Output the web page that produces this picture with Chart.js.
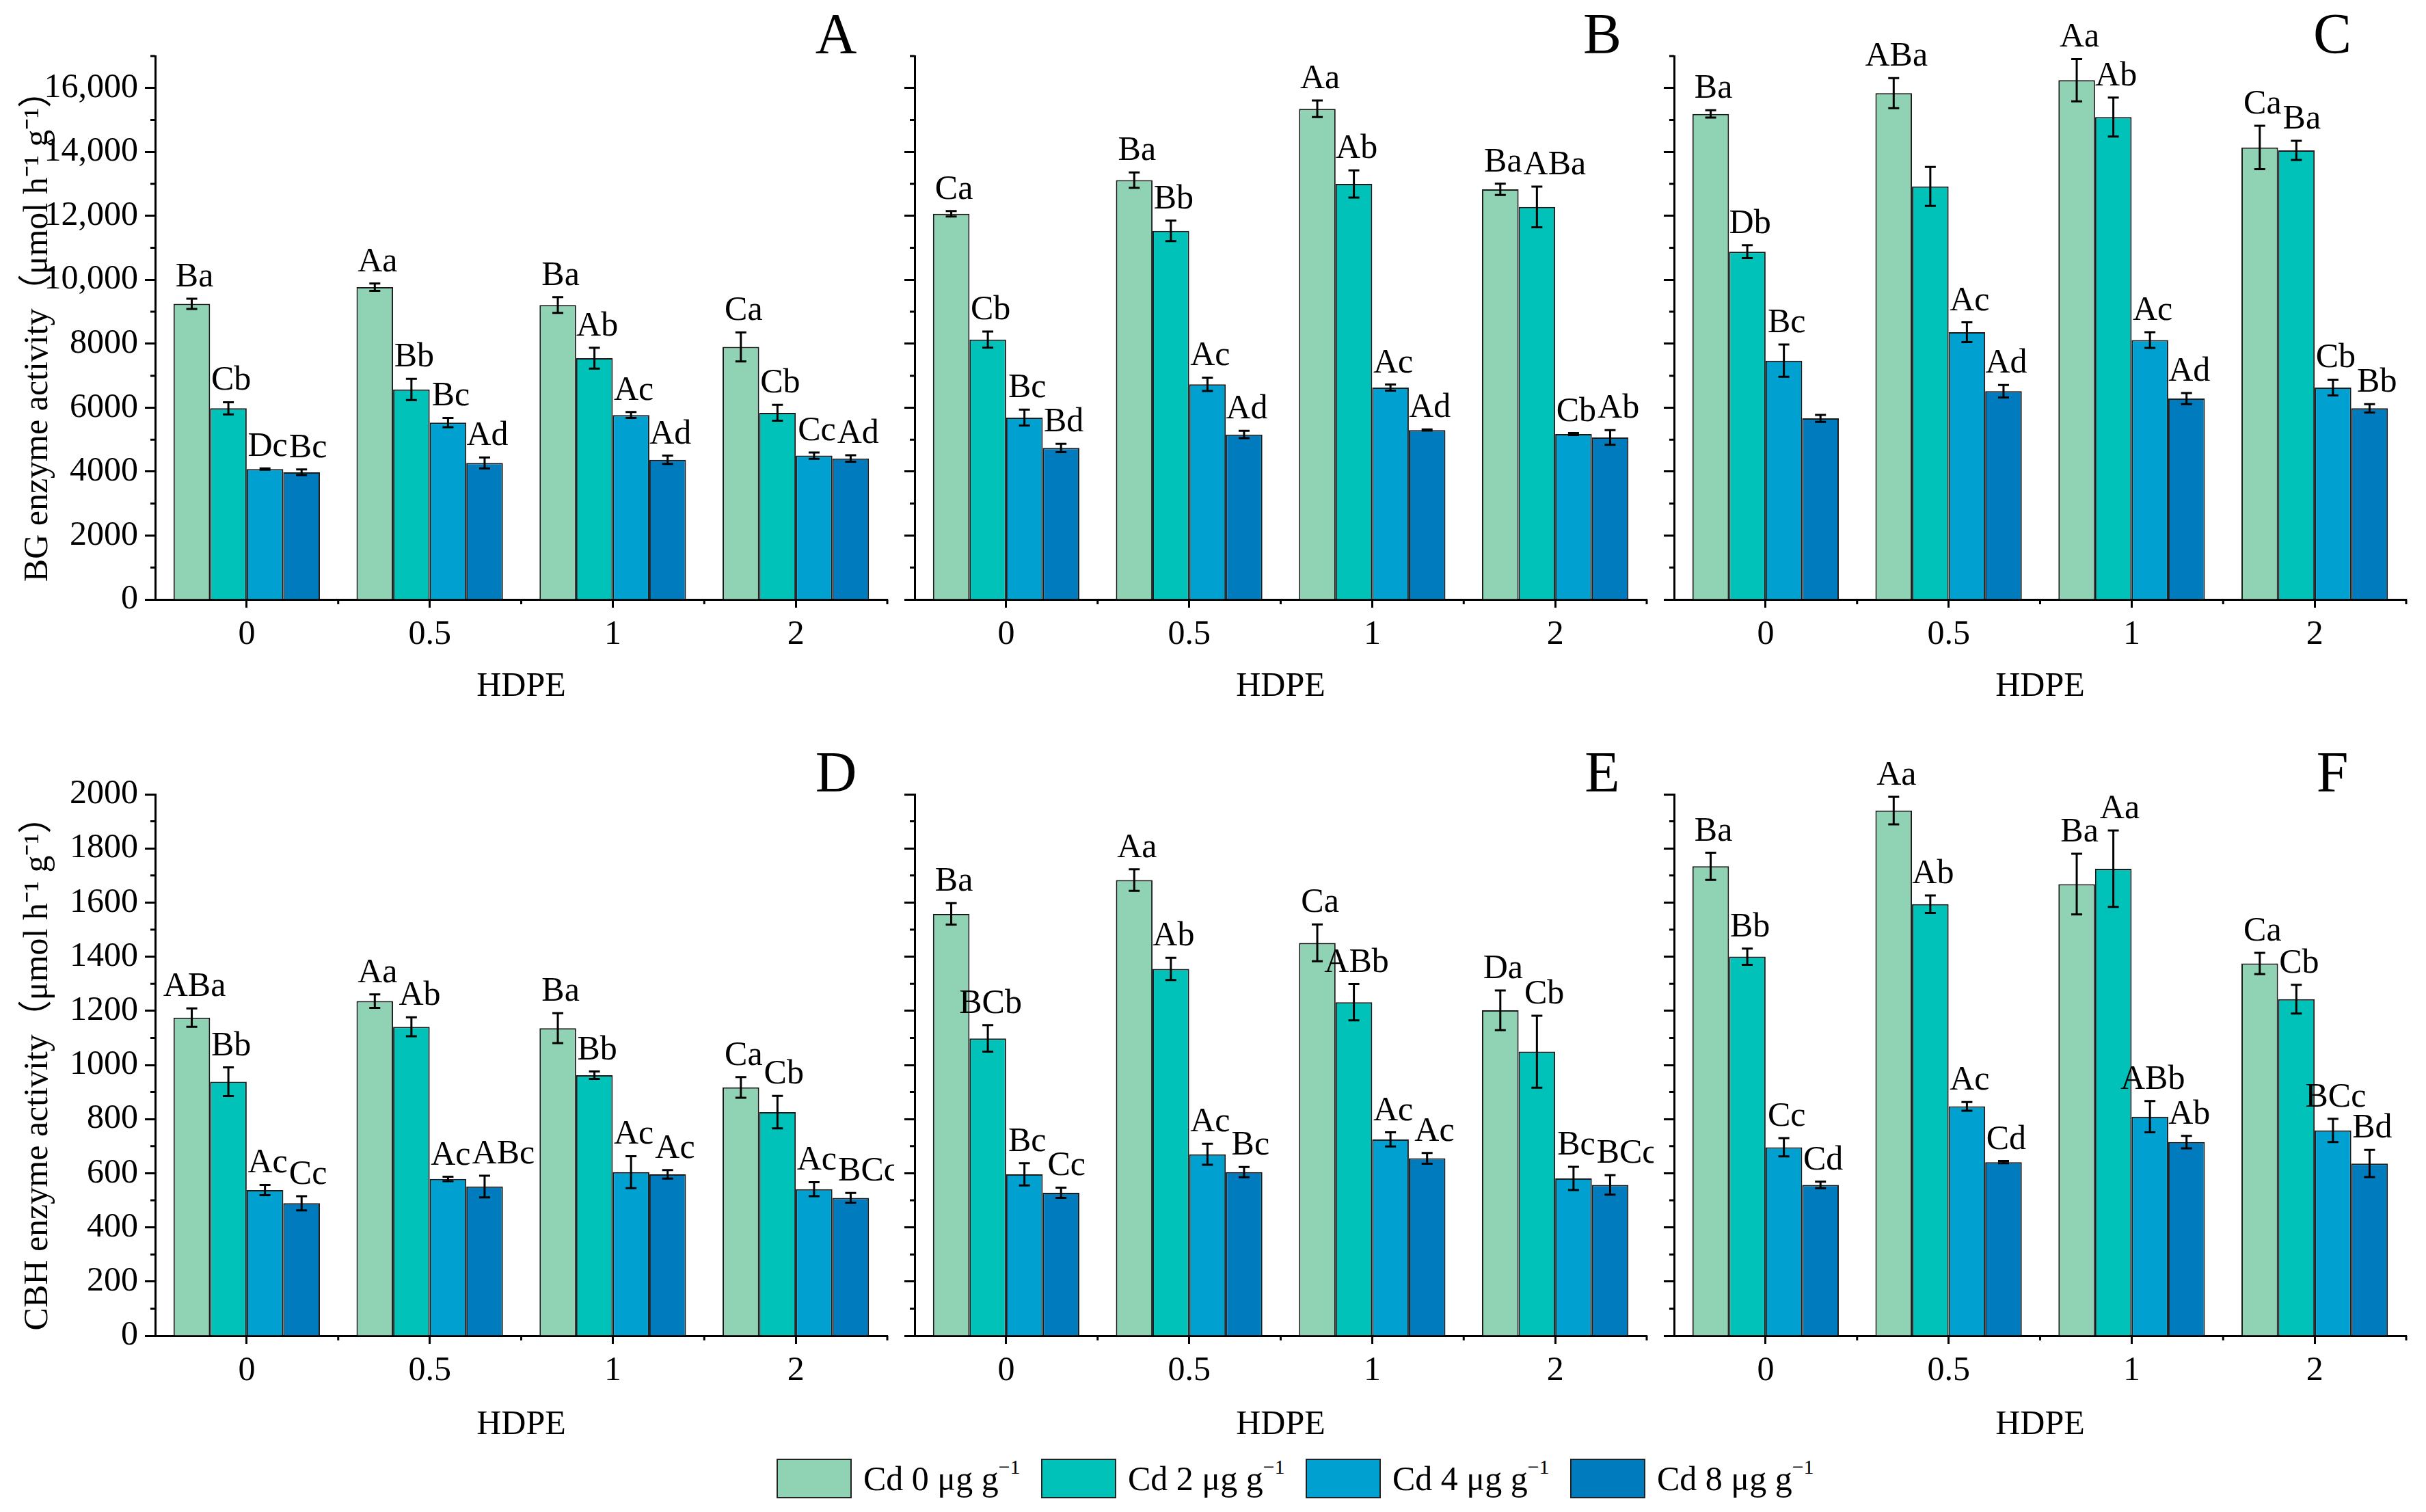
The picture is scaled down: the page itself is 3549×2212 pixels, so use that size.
<!DOCTYPE html>
<html>
<head>
<meta charset="utf-8">
<script src="https://cdn.jsdelivr.net/npm/chart.js@4.4.1/dist/chart.umd.min.js"></script>
<style>
    body { margin: 0; background: #fff; width: 3549px; height: 2212px; position: relative; overflow: hidden;
           font-family: "Liberation Serif", "Times New Roman", "Noto Sans CJK SC", serif; }
    .panel { position: absolute; width: 1308px; height: 1037px; }
    #legend { position: absolute; left: 1136px; top: 2134px; display: flex; }
    .item { display: flex; align-items: center; width: 387px; height: 58px; font-size: 50px; color: #000; }
    .box { width: 106px; height: 54px; border: 2px solid #222; margin-right: 17px; flex: none; }
    .item sup { font-size: 30px; vertical-align: 24px; line-height: 0; }
</style>
</head>
<body>
<div id="legend"></div>
<script>
// HDPE doses on the x axis
const hdpe = ['0', '0.5', '1', '2'];
// Cd levels (series)
const cdLevels = ['0', '2', '4', '8'];
const cdColors = ['#8fd3b4', '#00c2b8', '#00a0d0', '#007bbe'];

// y tick labels
const bgTicks = [0, 2000, 4000, 6000, 8000, 10000, 12000, 14000, 16000];
const cbhTicks = [0, 200, 400, 600, 800, 1000, 1200, 1400, 1600, 1800, 2000];

// rows = Cd 0, 2, 4, 8 ; columns = HDPE 0, 0.5, 1, 2
const bgA_mean = [[9250, 9770, 9210, 7900], [5980, 6570, 7550, 5840], [4080, 5535, 5770, 4500], [3980, 4270, 4370, 4410]];
const bgA_err  = [[160, 115, 245, 455], [190, 330, 325, 250], [20, 145, 95, 100], [90, 170, 130, 100]];
const bgA_sig  = [['Ba', 'Aa', 'Ba', 'Ca'], ['Cb', 'Bb', 'Ab', 'Cb'], ['Dc', 'Bc', 'Ac', 'Cc'], ['Bc', 'Ad', 'Ad', 'Ad']];

const bgB_mean = [[12065, 13120, 15350, 12830], [8130, 11530, 13000, 12280], [5690, 6730, 6630, 5175], [4740, 5160, 5300, 5070]];
const bgB_err  = [[85, 240, 260, 175], [250, 320, 425, 635], [250, 210, 95, 30], [130, 115, 20, 230]];
const bgB_sig  = [['Ca', 'Ba', 'Aa', 'Ba'], ['Cb', 'Bb', 'Ab', 'ABa'], ['Bc', 'Ac', 'Ac', 'Cb'], ['Bd', 'Ad', 'Ad', 'Ab']];

const bgC_mean = [[15190, 15840, 16245, 14140], [10880, 12920, 15090, 14050], [7470, 8360, 8115, 6630], [5665, 6515, 6285, 5980]];
const bgC_err  = [[115, 470, 660, 680], [200, 610, 610, 300], [505, 310, 245, 245], [110, 195, 175, 130]];
const bgC_sig  = [['Ba', 'ABa', 'Aa', 'Ca'], ['Db', '', 'Ab', 'Ba'], ['Bc', 'Ac', 'Ac', 'Cb'], ['', 'Ad', 'Ad', 'Bb']];

const cbhD_mean = [[1175, 1236, 1136, 917], [938, 1141, 962, 826], [538, 579, 604, 541], [489, 551, 596, 509]];
const cbhD_err  = [[34, 25, 55, 38], [53, 35, 14, 60], [19, 8, 59, 26], [26, 40, 16, 18]];
const cbhD_sig  = [['ABa', 'Aa', 'Ba', 'Ca'], ['Bb', 'Ab', 'Bb', 'Cb'], ['Ac', 'Ac', 'Ac', 'Ac'], ['Cc', 'ABc', 'Ac', 'BCc']];

const cbhE_mean = [[1558, 1683, 1451, 1202], [1098, 1355, 1232, 1049], [596, 670, 725, 581], [528, 604, 655, 557]];
const cbhE_err  = [[40, 40, 68, 73], [49, 41, 67, 133], [41, 39, 26, 43], [19, 19, 20, 36]];
const cbhE_sig  = [['Ba', 'Aa', 'Ca', 'Da'], ['BCb', 'Ab', 'ABb', 'Cb'], ['Bc', 'Ac', 'Ac', 'Bc'], ['Cc', 'Bc', 'Ac', 'BCc']];

const cbhF_mean = [[1734, 1940, 1668, 1375], [1400, 1594, 1725, 1243], [696, 847, 809, 758], [557, 641, 715, 636]];
const cbhF_err  = [[50, 51, 112, 39], [30, 32, 141, 53], [34, 16, 58, 43], [12, 4, 23, 50]];
const cbhF_sig  = [['Ba', 'Aa', 'Ba', 'Ca'], ['Bb', 'Ab', 'Aa', 'Cb'], ['Cc', 'Ac', 'ABb', 'BCc'], ['Cd', 'Cd', 'Ab', 'Bd']];

const bgTitle = 'BG enzyme activity（μmol h⁻¹ g⁻¹）';
const cbhTitle = 'CBH enzyme activity（μmol h⁻¹ g⁻¹）';

const FONT = '"Liberation Serif", "Times New Roman", "Noto Sans CJK SC", serif';
Chart.defaults.font.family = FONT;
Chart.defaults.color = '#000';

const panels = [
    { letter: 'A', mean: bgA_mean, err: bgA_err, sig: bgA_sig, row: 0, col: 0, max: 17000, ticks: bgTicks, minor: 1000, letterDx: 75 },
    { letter: 'B', mean: bgB_mean, err: bgB_err, sig: bgB_sig, row: 0, col: 1, max: 17000, ticks: bgTicks, minor: 1000, letterDx: 65 },
    { letter: 'C', mean: bgC_mean, err: bgC_err, sig: bgC_sig, row: 0, col: 2, max: 17000, ticks: bgTicks, minor: 1000, letterDx: 108 },
    { letter: 'D', mean: cbhD_mean, err: cbhD_err, sig: cbhD_sig, row: 1, col: 0, max: 2000, ticks: cbhTicks, minor: 100, letterDx: 75 },
    { letter: 'E', mean: cbhE_mean, err: cbhE_err, sig: cbhE_sig, row: 1, col: 1, max: 2000, ticks: cbhTicks, minor: 100, letterDx: 65 },
    { letter: 'F', mean: cbhF_mean, err: cbhF_err, sig: cbhF_sig, row: 1, col: 2, max: 2000, ticks: cbhTicks, minor: 100, letterDx: 108 }
];

// minor ticks on y, category boundary ticks on x
const extraTicks = {
    id: 'extraTicks',
    afterDraw(chart, args, opts) {
        const ctx = chart.ctx;
        const y = chart.scales.y, x = chart.scales.x;
        ctx.save();
        ctx.strokeStyle = '#000';
        ctx.lineWidth = 3;
        ctx.beginPath();
        for (let v = opts.minor; v <= y.max + 0.001; v += opts.minor * 2) {
            const py = y.getPixelForValue(v);
            ctx.moveTo(chart.chartArea.left - 7, py);
            ctx.lineTo(chart.chartArea.left, py);
        }
        const n = x.getLabels().length;
        for (let i = 0; i < n; i++) {
            const px = i < n - 1 ? (x.getPixelForValue(i) + x.getPixelForValue(i + 1)) / 2 : chart.chartArea.right;
            ctx.moveTo(px, chart.chartArea.bottom);
            ctx.lineTo(px, chart.chartArea.bottom + 7);
        }
        ctx.stroke();
        ctx.restore();
    }
};

// error bars + significance letters + panel letter
const errAndLetters = {
    id: 'errAndLetters',
    afterDatasetsDraw(chart, args, opts) {
        const ctx = chart.ctx;
        const y = chart.scales.y;
        ctx.save();
        ctx.strokeStyle = '#000';
        ctx.lineWidth = 3;
        chart.data.datasets.forEach((ds, i) => {
            const meta = chart.getDatasetMeta(i);
            meta.data.forEach((bar, j) => {
                const e = ds.errors[j];
                const y1 = y.getPixelForValue(ds.data[j] + e);
                const y2 = y.getPixelForValue(ds.data[j] - e);
                ctx.beginPath();
                ctx.moveTo(bar.x, y1); ctx.lineTo(bar.x, y2);
                ctx.moveTo(bar.x - 8, y1); ctx.lineTo(bar.x + 8, y1);
                ctx.moveTo(bar.x - 8, y2); ctx.lineTo(bar.x + 8, y2);
                ctx.stroke();
            });
        });

        ctx.font = '50px ' + FONT;
        ctx.fillStyle = '#000';
        ctx.textBaseline = 'alphabetic';
        ctx.textAlign = 'left';
        const nCat = chart.data.labels.length;
        for (let j = 0; j < nCat; j++) {
            let prev = null;
            chart.data.datasets.forEach((ds, i) => {
                const txt = ds.sig[j];
                if (!txt) return;
                const bar = chart.getDatasetMeta(i).data[j];
                const w = ctx.measureText(txt).width;
                const ty = y.getPixelForValue(ds.data[j] + ds.errors[j]) - 18;
                let left = bar.x - w / 2 + 4;
                if (prev && Math.abs(prev.y - ty) < 44 && left < prev.right + 2) {
                    left = prev.right + 2;
                }
                ctx.fillText(txt, left, ty);
                prev = { y: ty, right: left + w };
            });
        }

        ctx.font = '84px ' + FONT;
        ctx.textAlign = 'center';
        ctx.textBaseline = 'middle';
        ctx.fillText(opts.letter, chart.chartArea.right - opts.letterDx, 56);
        ctx.restore();
    }
};

panels.forEach(p => {
    const div = document.createElement('div');
    div.className = 'panel';
    div.style.left = (p.col * 1111) + 'px';
    div.style.top = (p.row * 1080) + 'px';
    const canvas = document.createElement('canvas');
    div.appendChild(canvas);
    document.body.appendChild(div);

    const showY = p.col === 0;
    new Chart(canvas, {
        type: 'bar',
        data: {
            labels: hdpe,
            datasets: cdLevels.map((cd, i) => ({
                label: 'Cd ' + cd + ' μg g⁻¹',
                data: p.mean[i],
                errors: p.err[i],
                sig: p.sig[i],
                backgroundColor: cdColors[i],
                borderColor: '#1a1a1a',
                borderWidth: 2,
                categoryPercentage: 0.8,
                barPercentage: 1.0
            }))
        },
        options: {
            responsive: true,
            maintainAspectRatio: false,
            animation: false,
            layout: { padding: { top: 82, right: 10, left: 0, bottom: 0 } },
            plugins: {
                legend: { display: false },
                tooltip: { enabled: false },
                extraTicks: { minor: p.minor },
                errAndLetters: { letter: p.letter, letterDx: p.letterDx }
            },
            scales: {
                x: {
                    grid: { display: true, drawOnChartArea: false, offset: false, drawTicks: true,
                            tickLength: 12, tickWidth: 3, tickColor: '#000' },
                    border: { display: true, width: 3, color: '#000' },
                    ticks: { font: { size: 50 }, padding: 10, maxRotation: 0 },
                    title: { display: true, text: 'HDPE', font: { size: 50 }, padding: { top: 0, bottom: 2 } },
                    afterFit: s => { s.height = p.row === 0 ? 160 : 163; }
                },
                y: {
                    min: 0,
                    max: p.max,
                    grid: { display: true, drawOnChartArea: false, drawTicks: true,
                            tickLength: 15, tickWidth: 3, tickColor: '#000' },
                    border: { display: true, width: 3, color: '#000' },
                    afterBuildTicks: s => { s.ticks = p.ticks.map(v => ({ value: v })); },
                    ticks: {
                        display: showY,
                        autoSkip: false,
                        padding: 10,
                        font: { size: 50 },
                        callback: v => v >= 10000 ? v.toLocaleString('en-US') : String(v)
                    },
                    title: { display: showY, text: p.row === 0 ? bgTitle : cbhTitle,
                             font: { size: 50 }, padding: { top: 26, bottom: 0 } },
                    afterFit: s => { s.width = 227; }
                }
            }
        },
        plugins: [extraTicks, errAndLetters]
    });
});

// legend
const legend = document.getElementById('legend');
cdLevels.forEach((cd, i) => {
    const item = document.createElement('div');
    item.className = 'item';
    item.innerHTML = '<div class="box" style="background:' + cdColors[i] + '"></div>' +
        '<span>Cd ' + cd + ' μg g<sup>−1</sup></span>';
    legend.appendChild(item);
});
</script>
</body>
</html>
